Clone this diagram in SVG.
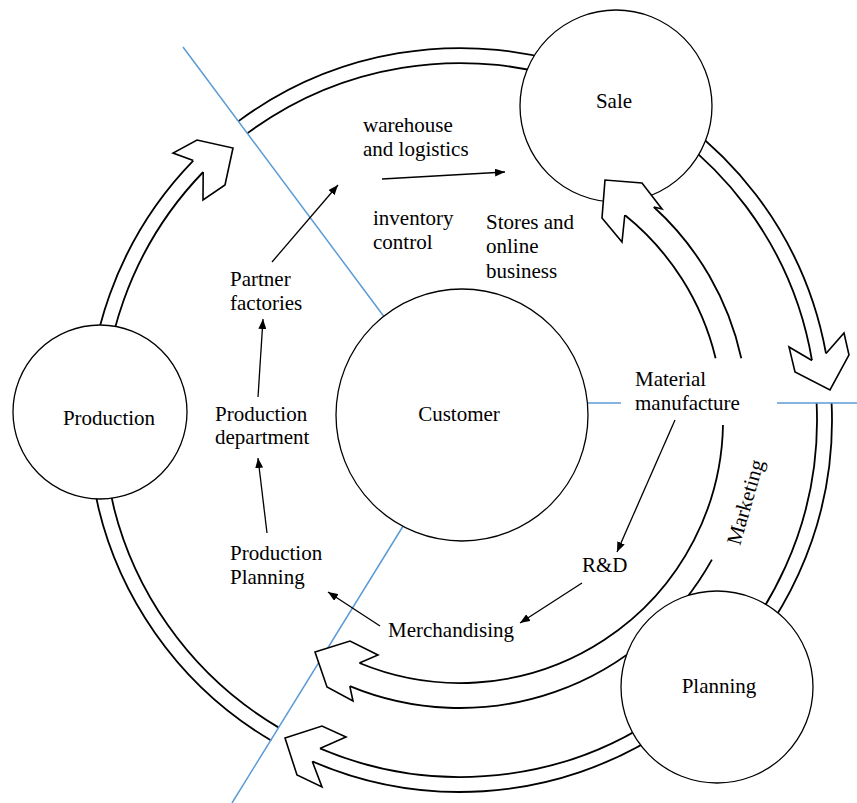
<svg xmlns="http://www.w3.org/2000/svg" width="857" height="803" viewBox="0 0 857 803">
<defs>
<style>
.band{fill:none;stroke:#000;stroke-width:1.8}
.head{fill:#fff;stroke:#000;stroke-width:1.6;stroke-linejoin:miter}
.blue{stroke:#5b9bd5;stroke-width:1.5;fill:none}
.node{fill:#fff;stroke:#000;stroke-width:1.3}
.arr{stroke:#000;stroke-width:1.3;fill:none;marker-end:url(#ah)}
text{font-family:"Liberation Serif","Times New Roman",serif;font-size:21px;fill:#000}
.c{text-anchor:middle}
</style>
<marker id="ah" viewBox="0 0 10 8" refX="10" refY="4" markerWidth="10" markerHeight="8" markerUnits="userSpaceOnUse" orient="auto">
<path d="M0,0 L10,4 L0,8 z" fill="#000"/>
</marker>
</defs>
<rect width="857" height="803" fill="#fff"/>
<g id="connectors">
<!-- outer band -->
<path class="band" d="M271.2,740.5 A372,372 0 0 1 193.3,160.6 M278.8,727.6 A357,357 0 0 1 203.2,172"/>
<path class="band" d="M238.2,121.4 A372,372 0 0 1 826,353.5 M247.2,133.4 A357,357 0 0 1 812,360.5"/>
<path class="band" d="M831.6,403 A372,372 0 0 1 312.3,761.4 M816.6,403 A357,357 0 0 1 319.9,748.4"/>
<!-- inner band -->
<path class="band" d="M624.8,215 A263,263 0 0 1 715.6,358.2 M723,425 A263,263 0 0 1 359.4,663"/>
<path class="band" d="M653.8,207 A288,288 0 0 1 741.3,358.2 M711.9,559.6 A288,288 0 0 1 349.8,686.1"/>
<!-- blue lines -->
<line class="blue" x1="183" y1="47" x2="388" y2="322"/>
<line class="blue" x1="232" y1="803" x2="405" y2="523"/>
<line class="blue" x1="586" y1="403" x2="621" y2="403"/>
<line class="blue" x1="777" y1="403" x2="857" y2="403"/>
</g>
<g id="sale"><circle class="node" cx="616" cy="106" r="96"/><text class="c" x="614" y="108">Sale</text></g>
<g id="production"><circle class="node" cx="100" cy="412" r="87"/><text class="c" x="109" y="425">Production</text></g>
<g id="customer"><circle class="node" cx="462" cy="415" r="126"/><text class="c" x="459" y="421">Customer</text></g>
<g id="planning"><circle class="node" cx="717" cy="687" r="96"/><text class="c" x="719" y="693">Planning</text></g>
<g id="arrowheads">
<path class="head" d="M193.3,160.6 L173,153 L197,140 L233,148 L225,185 L203,200 L203.2,172"/>
<path class="head" d="M624.8,215 L622,242 L602,218 L605,180 L642,183 L662,209 L653.8,207"/>
<path class="head" d="M812,360.5 L789,347 L795,372 L830,390 L849,355 L844,333 L826,353.5"/>
<path class="head" d="M359.4,663 L378,655 L350,641 L315,652 L327,687 L353,701 L349.8,686.1"/>
<path class="head" d="M319.9,748.4 L346,737 L322,726 L285,738 L297,775 L322,787 L312.3,761.4"/>
</g>
<g id="flow-arrows">
<line class="arr" x1="272" y1="262" x2="338" y2="185"/>
<line class="arr" x1="382" y1="179" x2="505" y2="172"/>
<line class="arr" x1="258" y1="397" x2="263" y2="319"/>
<line class="arr" x1="267" y1="533" x2="258" y2="458"/>
<line class="arr" x1="380" y1="626" x2="328" y2="592"/>
<line class="arr" x1="582" y1="583" x2="520" y2="623"/>
<line class="arr" x1="675" y1="420" x2="617" y2="552"/>
</g>
<g id="warehouse"><text x="363" y="132">warehouse</text><text x="363" y="156">and logistics</text></g>
<g id="inventory"><text x="373" y="225">inventory</text><text x="373" y="249">control</text></g>
<g id="stores"><text x="486" y="229">Stores and</text><text x="486" y="253">online</text><text x="486" y="278">business</text></g>
<g id="partner"><text x="230" y="286">Partner</text><text x="230" y="310">factories</text></g>
<g id="proddept"><text x="215" y="421">Production</text><text x="215" y="444">department</text></g>
<g id="prodplan"><text x="230" y="560">Production</text><text x="230" y="584">Planning</text></g>
<g id="material"><text x="635" y="386">Material</text><text x="635" y="410">manufacture</text></g>
<g id="rnd"><text x="582" y="572">R&amp;D</text></g>
<g id="merch"><text x="388" y="637">Merchandising</text></g>
<g id="marketing"><text class="c" transform="translate(752,504) rotate(-74)" x="0" y="0">Marketing</text></g>
</svg>
